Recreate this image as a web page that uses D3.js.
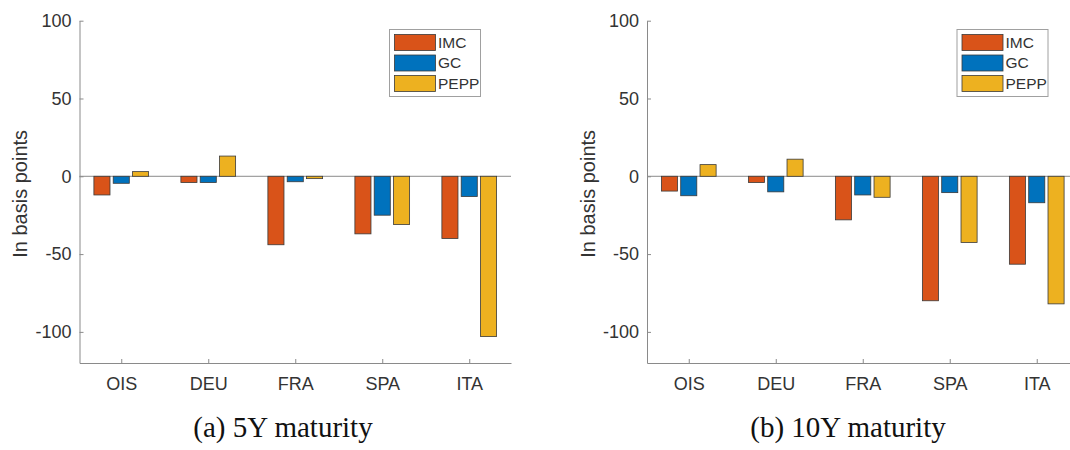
<!DOCTYPE html>
<html>
<head>
<meta charset="utf-8">
<script src="https://cdn.jsdelivr.net/npm/d3@7"></script>
<style>
  body { margin: 0; background: #fff; }
  svg { display: block; }
  .axis path, .axis line { stroke: #8a8a8a; }
  .axis text { fill: #333; font-family: Arial, "Liberation Sans", sans-serif; font-size: 18px; }
</style>
</head>
<body>
<svg id="chart" width="1070" height="450"></svg>
<script>
// categories and series
var categories = ["OIS", "DEU", "FRA", "SPA", "ITA"];
var series = ["IMC", "GC", "PEPP"];
var colors = ["#D95319", "#0072BD", "#EDB120"];
var yTicks = [-100, -50, 0, 50, 100];

// 5Y maturity values (basis points)
var imc5 = [-12, -4, -44, -37, -40];
var gc5 = [-4.5, -4, -3.5, -25, -13];
var pepp5 = [3, 13, -1.5, -31, -103];

// 10Y maturity values (basis points)
var imc10 = [-9.5, -4, -28, -80, -56.5];
var gc10 = [-12.5, -10, -12, -10.5, -17];
var pepp10 = [7.5, 11, -13.5, -42.5, -82];

var captions = ["(a) 5Y maturity", "(b) 10Y maturity"];

var svg = d3.select("#chart");

function drawPanel(offsetX, values, caption, capX) {
    var left = 79.5, right = 511, top = 20.7, bottom = 363;

    var g = svg.append("g")
        .attr("transform", "translate(" + offsetX + ",0)");

    var x = d3.scalePoint().domain(categories).range([left, right]).padding(0.48);
    var y = d3.scaleLinear().domain([-120, 100]).range([bottom, top]);

    var step = x.step();
    var offset = step * 0.222; // distance between bars in a group
    var bw = step * 0.185; // bar width

    var xAxis = d3.axisBottom(x).tickSize(-4).tickPadding(14).tickSizeOuter(0);
    var yAxis = d3.axisLeft(y).tickValues(yTicks).tickSize(-4).tickPadding(8).tickSizeOuter(0)
        .tickFormat(function(d) { return String(d); }); // plain hyphen minus like matlab

    g.append("g")
        .attr("class", "x axis")
        .attr("transform", "translate(0," + bottom + ")")
        .call(xAxis);

    g.append("g")
        .attr("class", "y axis")
        .attr("transform", "translate(" + left + ",0)")
        .call(yAxis);

    // baseline at zero
    g.append("line")
        .attr("x1", left)
        .attr("x2", right)
        .attr("y1", y(0))
        .attr("y2", y(0))
        .style("stroke", "#8a8a8a")
        .style("stroke-width", 1);

    values.forEach(function(vals, si) {
        g.selectAll(".bar" + si)
            .data(vals)
            .enter().append("rect")
            .attr("x", function(d, i) { return x(categories[i]) + (si - 1) * offset - bw / 2; })
            .attr("y", function(d) { return Math.min(y(d), y(0)); })
            .attr("width", bw)
            .attr("height", function(d) { return Math.abs(y(d) - y(0)); })
            .style("fill", colors[si])
            .style("stroke", "#3a3a3a")
            .style("stroke-width", 0.8);
    });

    // y label
    g.append("text")
        .attr("transform", "translate(20," + ((top + bottom) / 2 + 2) + ") rotate(-90)")
        .attr("text-anchor", "middle")
        .attr("dy", "0.35em")
        .style("font-family", "Arial, 'Liberation Sans', sans-serif")
        .style("font-size", "20px")
        .style("fill", "#333")
        .text("In basis points");

    // legend
    var lg = g.append("g").attr("transform", "translate(389.5,29.5)");
    lg.append("rect")
        .attr("width", 91)
        .attr("height", 67)
        .style("fill", "#fff")
        .style("stroke", "#a0a0a0")
        .style("stroke-width", 1);
    series.forEach(function(s, i) {
        lg.append("rect")
            .attr("x", 5)
            .attr("y", 5 + i * 20.5)
            .attr("width", 41)
            .attr("height", 16)
            .style("fill", colors[i])
            .style("stroke", "#3a3a3a")
            .style("stroke-width", 0.8);
        lg.append("text")
            .attr("x", 48.5)
            .attr("y", 13 + i * 20.5)
            .attr("dy", "0.35em")
            .style("font-family", "Arial, 'Liberation Sans', sans-serif")
            .style("font-size", "15.5px")
            .style("fill", "#333")
            .text(s);
    });

    // caption
    svg.append("text")
        .attr("x", capX)
        .attr("y", 436.5)
        .attr("text-anchor", "middle")
        .style("font-family", "'Liberation Serif', 'DejaVu Serif', serif")
        .style("font-size", "29px")
        .style("fill", "#111")
        .text(caption);
}

drawPanel(0, [imc5, gc5, pepp5], captions[0], 283);
drawPanel(567.5, [imc10, gc10, pepp10], captions[1], 848);
</script>
</body>
</html>
